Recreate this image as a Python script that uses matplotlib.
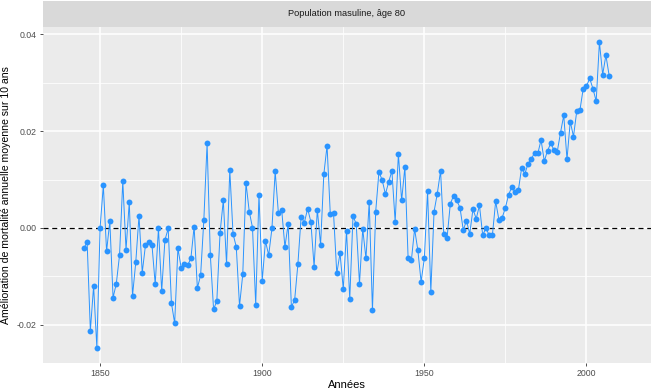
import matplotlib
matplotlib.use('Agg')
import matplotlib.pyplot as plt
import numpy as np

plt.rcParams['font.family'] = ['Liberation Sans', 'DejaVu Sans']

years = list(range(1845, 2008))
values = [
    -0.0042, -0.0029, -0.0212, -0.0120, -0.0247, 0.0001, 0.0088, -0.0048, 0.0014, -0.0144,
    -0.0115, -0.0056, 0.0097, -0.0045, 0.0054, -0.0140, -0.0071, 0.0025, -0.0092, -0.0035,
    -0.0029, -0.0035, -0.0116, -0.0001, -0.0130, -0.0025, -0.0001, -0.0155, -0.0197, -0.0042,
    -0.0082, -0.0075, -0.0077, -0.0063, 0.0003, -0.0124, -0.0098, 0.0017, 0.0175, -0.0056,
    -0.0168, -0.0151, -0.0010, 0.0057, -0.0075, 0.0120, -0.0012, -0.0039, -0.0161, -0.0096,
    0.0093, 0.0034, 0.0001, -0.0159, 0.0069, -0.0109, -0.0027, -0.0056, -0.0001, 0.0117,
    0.0030, 0.0038, -0.0039, 0.0008, -0.0163, -0.0149, -0.0075, 0.0023, 0.0011, 0.0040,
    0.0013, -0.0080, 0.0038, -0.0035, 0.0111, 0.0170, 0.0028, 0.0030, -0.0094, -0.0052,
    -0.0126, -0.0006, -0.0147, 0.0025, 0.0008, -0.0115, -0.0002, -0.0063, 0.0054, -0.0170,
    0.0034, 0.0116, 0.0099, 0.0070, 0.0095, 0.0118, 0.0013, 0.0153, 0.0057, 0.0126,
    -0.0063, -0.0067, -0.0002, -0.0046, -0.0111, -0.0063, 0.0076, -0.0132, 0.0034, 0.0071,
    0.0118, -0.0013, -0.0021, 0.0049, 0.0067, 0.0057, 0.0042, -0.0004, 0.0015, -0.0012,
    0.0039, 0.0019, 0.0047, -0.0015, 0.0000, -0.0015, -0.0014, 0.0055, 0.0017, 0.0021,
    0.0042, 0.0069, 0.0085, 0.0074, 0.0078, 0.0124, 0.0112, 0.0133, 0.0142, 0.0156,
    0.0154, 0.0182, 0.0138, 0.0160, 0.0175, 0.0161, 0.0158, 0.0197, 0.0233, 0.0142,
    0.0220, 0.0189, 0.0241, 0.0244, 0.0288, 0.0293, 0.0309, 0.0288, 0.0262, 0.0384,
    0.0317, 0.0357, 0.0315,
]
x_major = [1850, 1900, 1950, 2000]
x_minor = [1875, 1925, 1975]
y_major = [-0.02, 0.00, 0.02, 0.04]
y_minor = [-0.01, 0.01, 0.03]
y_labels = ['-0.02', '0.00', '0.02', '0.04']

W, H = 658, 391
fig = plt.figure(figsize=(W / 100, H / 100), dpi=100)

# panel
x0, x1 = 42.7, 651.3
top, bottom = 26.7, 363
ax = fig.add_axes([x0 / W, 1 - bottom / H, (x1 - x0) / W, (bottom - top) / H])
ax.set_facecolor('#EBEBEB')
for s in ax.spines.values():
    s.set_visible(False)

ax.set_xlim(1832.3, 2020.0)
ax.set_ylim(-0.0279, 0.0416)
ax.set_xticks(x_major)
ax.set_xticks(x_minor, minor=True)
ax.set_yticks(y_major)
ax.set_yticks(y_minor, minor=True)
ax.set_yticklabels(y_labels)
ax.grid(which='major', color='white', linewidth=1.1)
ax.grid(which='minor', color='white', linewidth=0.55)
ax.set_axisbelow(True)
ax.tick_params(which='major', length=2.5, width=0.6, color='#333333',
               labelsize=6.3, labelcolor='#4D4D4D', pad=2)
ax.tick_params(which='minor', length=0)

ax.axhline(0, color='black', linestyle=(0, (4, 3)), linewidth=0.9, zorder=2)
ax.plot(years, values, color='#2A94FF', linewidth=0.7, zorder=3)
ax.scatter(years, values, color='#2A94FF', s=18, zorder=4, linewidths=0)

ax.set_xlabel('Années', fontsize=8, color='black', labelpad=1.5)
ax.set_ylabel('Amélioration de mortalité annuelle moyenne sur 10 ans',
              fontsize=7.6, color='black', labelpad=4)

# facet strip
strip = fig.add_axes([x0 / W, 1 - top / H, (x1 - x0) / W, (top - 1) / H])
strip.set_facecolor('#D9D9D9')
strip.set_xticks([])
strip.set_yticks([])
for s in strip.spines.values():
    s.set_visible(False)
strip.text(0.5, 0.5, 'Population masuline, âge 80', ha='center', va='center',
           fontsize=6.7, color='#1A1A1A', transform=strip.transAxes)

fig.savefig('out.png', dpi=100)
